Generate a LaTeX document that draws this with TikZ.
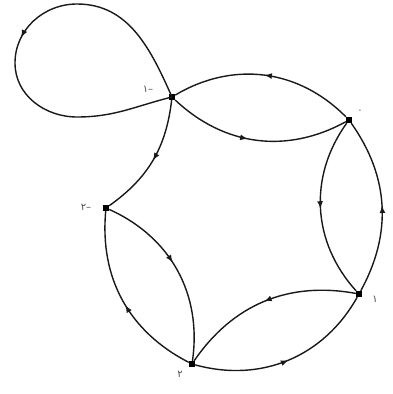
\documentclass[tikz,border=0pt]{standalone}
\usepackage{fontspec}
\newfontfamily\fafont{DejaVu Sans}
\usetikzlibrary{arrows.meta,decorations.markings}
\begin{document}
\begin{tikzpicture}[x=1pt,y=1pt,
  vtx/.style={rectangle,fill=black,inner sep=0pt,minimum size=6pt},
  lbl/.style={font=\fafont\fontsize{10}{10}\selectfont,text=black!70,inner sep=0pt},
  edge/.style={line width=1.4pt,black!90},
  midarrow/.style={postaction={decorate},decoration={markings,
     mark=at position #1 with {\arrow{Latex[length=7.5pt,width=6pt]}}}},
  midarrow/.default=0.5]
\useasboundingbox (0,0) rectangle (392,394);
\node[vtx] (A) at (172,297) {};
\node[vtx] (B) at (349,274) {};
\node[vtx] (C) at (359,100) {};
\node[vtx] (D) at (192,30) {};
\node[vtx] (E) at (106,186) {};
\coordinate (Ltop) at (77,390);
\coordinate (Lleft) at (15,331);
\coordinate (Lbot) at (77,277);
% labels
\node[lbl] (lA) at (148,305) {۱–};
\node[lbl] (lB) at (360,282) {۰};
\node[lbl] (lC) at (375,95) {۱};
\node[lbl] (lD) at (180,20) {۲};
\node[lbl] (lE) at (86,187) {۲–};
% loop
\draw[edge] (A.center) to[out=114,in=0] (Ltop);
\draw[edge,midarrow=0.72] (Ltop) to[out=180,in=90] (Lleft);
\draw[edge] (Lleft) to[out=270,in=180] (Lbot) to[out=0,in=194] (A.center);
% edges
\draw[edge,midarrow] (B) to[bend right=38] (A);
\draw[edge,midarrow=0.45] (A) to[bend right=36] (B);
\draw[edge,midarrow] (A) to[bend left=24] (E);
\draw[edge,midarrow] (B) to[bend right=39] (C);
\draw[edge,midarrow] (C) to[bend right=32] (B);
\draw[edge,midarrow] (C) to[bend right=33] (D);
\draw[edge,midarrow] (D) to[bend right=38] (C);
\draw[edge,midarrow=0.45] (E) to[bend left=37] (D);
\draw[edge,midarrow=0.47] (D) to[bend left=34] (E);
\end{tikzpicture}
\end{document}
